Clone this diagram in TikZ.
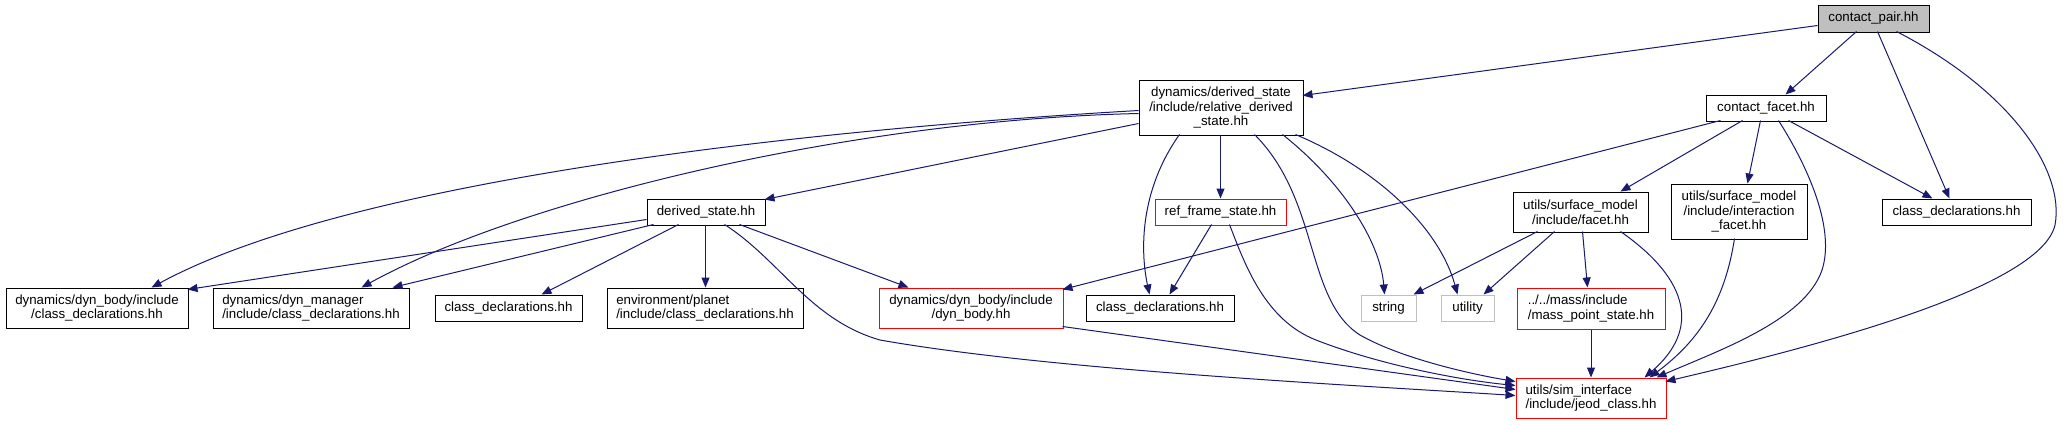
\documentclass[tikz,border=0pt]{standalone}
\usepackage{fontspec}
\setmainfont{Liberation Sans}
\usetikzlibrary{arrows.meta,calc}
\definecolor{edgeblue}{HTML}{191970}
\definecolor{boxred}{HTML}{FF0000}
\definecolor{boxgray}{HTML}{BFBFBF}
\newcommand{\nfont}{\fontsize{13.3}{14.8}\selectfont}
\tikzset{
  box/.style={draw=black, line width=1pt, fill=white, inner sep=0pt, font=\nfont, align=center},
  redbox/.style={box, draw=boxred},
  graybox/.style={box, draw=boxgray},
  rootbox/.style={box, fill=boxgray},
  lbox/.style={align=left},
  dep/.style={draw=edgeblue, line width=1pt, -{Triangle[length=10pt,width=8pt]}},
}
\begin{document}
\begin{tikzpicture}[x=1pt,y=-1pt]
\useasboundingbox (0,0) rectangle (2063,424);
\fill[white] (0,0) rectangle (2063,424);
% nodes
\node[rootbox, minimum width=111, minimum height=27] (N1) at (1873.5,18.5) {contact\_pair.hh};
\node[box, minimum width=164, minimum height=55] (N2) at (1221,107.5) {dynamics/derived\_state\\/include/relative\_derived\\\_state.hh};
\node[box, minimum width=120, minimum height=26] (N3) at (1766,108) {contact\_facet.hh};
\node[box, minimum width=118, minimum height=26] (N4) at (706,212) {derived\_state.hh};
\node[redbox, minimum width=131, minimum height=26] (N5) at (1220.5,212) {ref\_frame\_state.hh};
\node[box, minimum width=135, minimum height=40] (N6) at (1580.5,212) {utils/surface\_model\\/include/facet.hh};
\node[box, minimum width=136, minimum height=55] (N7) at (1739,211.5) {utils/surface\_model\\/include/interaction\\\_facet.hh};
\node[box, minimum width=149, minimum height=26] (N8) at (1956.5,212) {class\_declarations.hh};
\node[box, minimum width=182, minimum height=40] (N9) at (97,308) {dynamics/dyn\_body/include\\/class\_declarations.hh};
\node[box, lbox, minimum width=196, minimum height=40] (N10) at (311,308) {dynamics/dyn\_manager\\/include/class\_declarations.hh};
\node[box, minimum width=147, minimum height=26] (N11) at (508.5,308) {class\_declarations.hh};
\node[box, lbox, minimum width=196, minimum height=40] (N12) at (705,308) {environment/planet\\/include/class\_declarations.hh};
\node[redbox, minimum width=184, minimum height=40] (N13) at (971,308) {dynamics/dyn\_body/include\\/dyn\_body.hh};
\node[box, minimum width=148, minimum height=26] (N14) at (1160,308) {class\_declarations.hh};
\node[graybox, minimum width=55, minimum height=26] (N15) at (1388.5,308) {string};
\node[graybox, minimum width=53, minimum height=26] (N16) at (1467.5,308) {utility};
\node[redbox, lbox, minimum width=148, minimum height=41] (N17) at (1591,308.5) {../../mass/include\\/mass\_point\_state.hh};
\node[redbox, lbox, minimum width=150, minimum height=40] (N18) at (1591,398) {utils/sim\_interface\\/include/jeod\_class.hh};
% edges from contact_pair
\draw[dep] ($(N1.north west)+(0,21)$) -- ($(N2.north west)+(164,16)$);
\draw[dep] ($(N1.north west)+(39,27)$) -- ($(N3.north west)+(80,0)$);
\draw[dep] ($(N1.north west)+(60,27)$) -- ($(N8.north west)+(68,0)$);
\draw[dep] ($(N1.north west)+(79,27)$) .. controls (2010,90) and (2065,170) .. (2055,225) .. controls (2040,290) and (1800,350) .. ($(N18.north west)+(150,4)$);
% edges from relative_derived_state
\draw[dep] ($(N2.north west)+(0,31)$) .. controls (800,130) and (350,180) .. ($(N9.north west)+(146,0)$);
\draw[dep] ($(N2.north west)+(0,34)$) .. controls (850,120) and (520,200) .. ($(N10.north west)+(149,0)$);
\draw[dep] ($(N2.north west)+(0,44)$) -- ($(N4.north west)+(118,1)$);
\draw[dep] ($(N2.north west)+(41,55)$) .. controls (1140,190) and (1140,250) .. ($(N14.north west)+(64,0)$);
\draw[dep] ($(N2.north west)+(82,55)$) -- ($(N5.north west)+(66,0)$);
\draw[dep] ($(N2.north west)+(116,55)$) .. controls (1320,200) and (1305,300) .. (1360,335) .. controls (1400,358) and (1470,374) .. ($(N18.north west)+(0,4)$);
\draw[dep] ($(N2.north west)+(144,55)$) .. controls (1340,180) and (1380,240) .. ($(N15.north west)+(24,0)$);
\draw[dep] ($(N2.north west)+(157,55)$) .. controls (1380,170) and (1440,230) .. ($(N16.north west)+(17,0)$);
% edges from contact_facet
\draw[dep] ($(N3.north west)+(15,26)$) -- ($(N13.north west)+(184,2)$);
\draw[dep] ($(N3.north west)+(37,26)$) -- ($(N6.north west)+(108,0)$);
\draw[dep] ($(N3.north west)+(55,26)$) -- ($(N7.north west)+(77,0)$);
\draw[dep] ($(N3.north west)+(73,26)$) .. controls (1810,170) and (1835,230) .. (1822,270) .. controls (1805,320) and (1720,350) .. ($(N18.north west)+(141,0)$);
\draw[dep] ($(N3.north west)+(83,26)$) -- ($(N8.north west)+(51,0)$);
% edges from derived_state
\draw[dep] ($(N4.north west)+(0,21)$) -- ($(N9.north west)+(182,2)$);
\draw[dep] ($(N4.north west)+(7,26)$) -- ($(N10.north west)+(180,0)$);
\draw[dep] ($(N4.north west)+(32,26)$) -- ($(N11.north west)+(107,0)$);
\draw[dep] ($(N4.north west)+(59,26)$) -- ($(N12.north west)+(99,0)$);
\draw[dep] ($(N4.north west)+(93,26)$) -- ($(N13.north west)+(30,0)$);
\draw[dep] ($(N4.north west)+(78,26)$) .. controls (780,260) and (810,320) .. (880,340) .. controls (1050,370) and (1350,385) .. ($(N18.north west)+(0,18)$);
% edges from ref_frame_state
\draw[dep] ($(N5.north west)+(57,26)$) -- ($(N14.north west)+(84,0)$);
\draw[dep] ($(N5.north west)+(75,26)$) .. controls (1245,265) and (1265,320) .. (1316,340) .. controls (1380,365) and (1460,380) .. ($(N18.north west)+(0,8)$);
% edges from facet
\draw[dep] ($(N6.north west)+(25,40)$) -- ($(N15.north west)+(53,0)$);
\draw[dep] ($(N6.north west)+(42,40)$) -- ($(N16.north west)+(43,0)$);
\draw[dep] ($(N6.north west)+(70,40)$) -- ($(N17.north west)+(71,0)$);
\draw[dep] ($(N6.north west)+(108,40)$) .. controls (1690,280) and (1700,330) .. ($(N18.north west)+(129,0)$);
% edge from interaction_facet
\draw[dep] ($(N7.north west)+(64,55)$) .. controls (1725,300) and (1700,340) .. ($(N18.north west)+(134,0)$);
% edge from mass_point_state
\draw[dep] (N17.south) -- (N18.north);
% edge from dyn_body
\draw[dep] ($(N13.north west)+(184,39)$) -- ($(N18.north west)+(0,12)$);
\end{tikzpicture}
\end{document}
